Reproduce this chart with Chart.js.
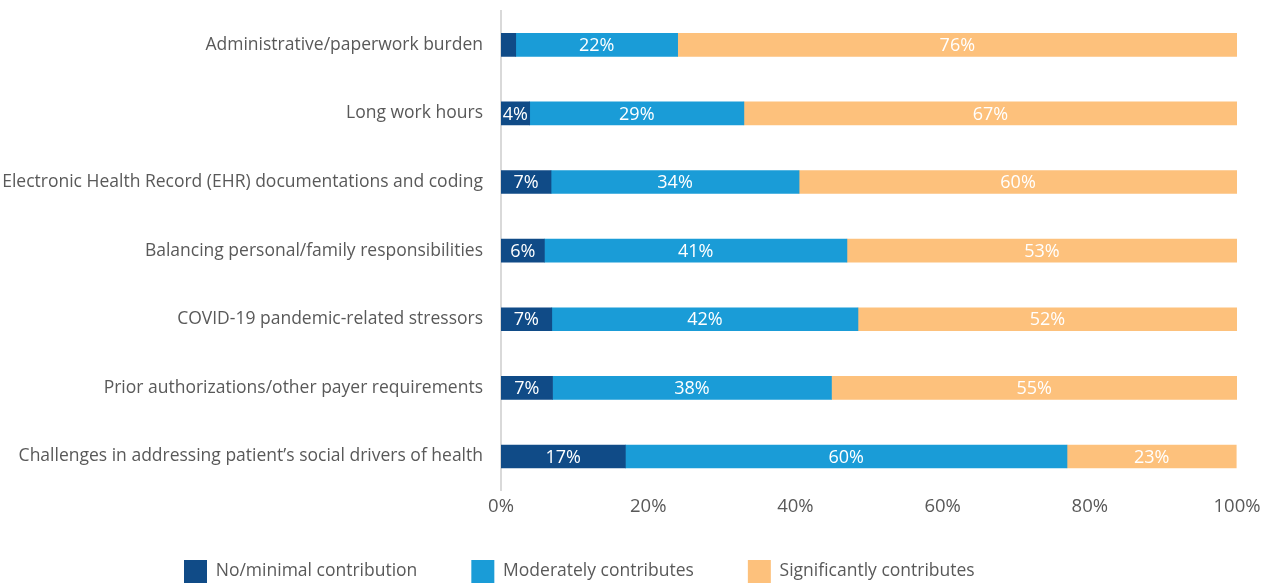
<!DOCTYPE html>
<html>
<head>
<meta charset="utf-8">
<script src="https://cdn.jsdelivr.net/npm/chart.js@4/dist/chart.umd.min.js"></script>
<style>
  html, body { margin: 0; padding: 0; background: #ffffff; }
  #wrap { position: relative; width: 1270px; height: 585px; }
</style>
</head>
<body>
<div id="wrap"><canvas id="c"></canvas></div>
<script>
const categories = [
  "Administrative/paperwork burden",
  "Long work hours",
  "Electronic Health Record (EHR) documentations and coding",
  "Balancing personal/family responsibilities",
  "COVID-19 pandemic-related stressors",
  "Prior authorizations/other payer requirements",
  "Challenges in addressing patient\u2019s social drivers of health"
];
const seriesNames = ["No/minimal contribution", "Moderately contributes", "Significantly contributes"];
const noMinimal   = [2.0, 3.9, 6.8, 5.9, 6.9, 7.0, 16.9];
const moderately  = [22.0, 29.1, 33.7, 41.1, 41.6, 37.9, 60.0];
const significant = [76.0, 67.0, 59.5, 53.0, 51.5, 55.1, 23.0];
const xTicks = [0, 20, 40, 60, 80, 100];

const FONT = "'Open Sans', 'Noto Sans', sans-serif";
const GRAY = '#595959';

const labelPlugin = {
  id: 'segLabels',
  afterDatasetsDraw(chart) {
    const ctx = chart.ctx;
    ctx.save();
    ctx.font = '18px ' + FONT;
    ctx.fillStyle = '#ffffff';
    ctx.textAlign = 'center';
    ctx.textBaseline = 'middle';
    chart.data.datasets.forEach((ds, di) => {
      const meta = chart.getDatasetMeta(di);
      meta.data.forEach((bar, i) => {
        const v = ds.data[i];
        if (v < 3) return;
        const p = bar.getProps(['x', 'y', 'base'], true);
        ctx.fillText(Math.round(v) + '%', (p.x + p.base) / 2, p.y + 1);
      });
    });
    ctx.restore();
  }
};

// place the legend row where the reference has it
const legendPlace = {
  id: 'legendPlace',
  afterLayout(chart) {
    const lg = chart.legend;
    const pad = lg.options.labels.padding;
    const h = lg.height;
    lg.left = 184 - pad;
    lg.top = 560 - pad;
    lg.bottom = lg.top + h;
  }
};

new Chart(document.getElementById('c'), {
  type: 'bar',
  data: {
    labels: categories,
    datasets: [
      { label: seriesNames[0], data: noMinimal, backgroundColor: '#104B87' },
      { label: seriesNames[1], data: moderately, backgroundColor: '#1A9CD7' },
      { label: seriesNames[2], data: significant, backgroundColor: '#FDC17C' }
    ]
  },
  options: {
    indexAxis: 'y',
    responsive: true,
    maintainAspectRatio: false,
    animation: false,
    layout: { padding: { left: 0, right: 33, top: 10, bottom: -25 } },
    datasets: { bar: { barThickness: 23, borderWidth: 0 } },
    scales: {
      x: {
        stacked: true,
        min: 0,
        max: 100,
        afterBuildTicks(scale) { scale.ticks = xTicks.map(v => ({ value: v })); },
        grid: { display: false, drawTicks: false },
        border: { display: false },
        ticks: {
          padding: 5,
          color: GRAY,
          font: { family: FONT, size: 18.5 },
          callback: v => v + '%'
        }
      },
      y: {
        stacked: true,
        afterFit(scale) { scale.width = 501; },
        grid: { display: true, drawOnChartArea: false, drawTicks: true, tickLength: 18, tickColor: 'rgba(0,0,0,0)' },
        border: { display: true, color: '#D9D9D9', width: 2 },
        ticks: {
          padding: 0,
          color: GRAY,
          font: { family: FONT, size: 17.5 }
        }
      }
    },
    plugins: {
      legend: {
        position: 'bottom',
        align: 'start',
        labels: {
          boxWidth: 23,
          boxHeight: 23,
          padding: 54,
          color: GRAY,
          font: { family: FONT, size: 17.5 }
        }
      },
      tooltip: { enabled: false }
    }
  },
  plugins: [labelPlugin, legendPlace]
});
</script>
</body>
</html>
